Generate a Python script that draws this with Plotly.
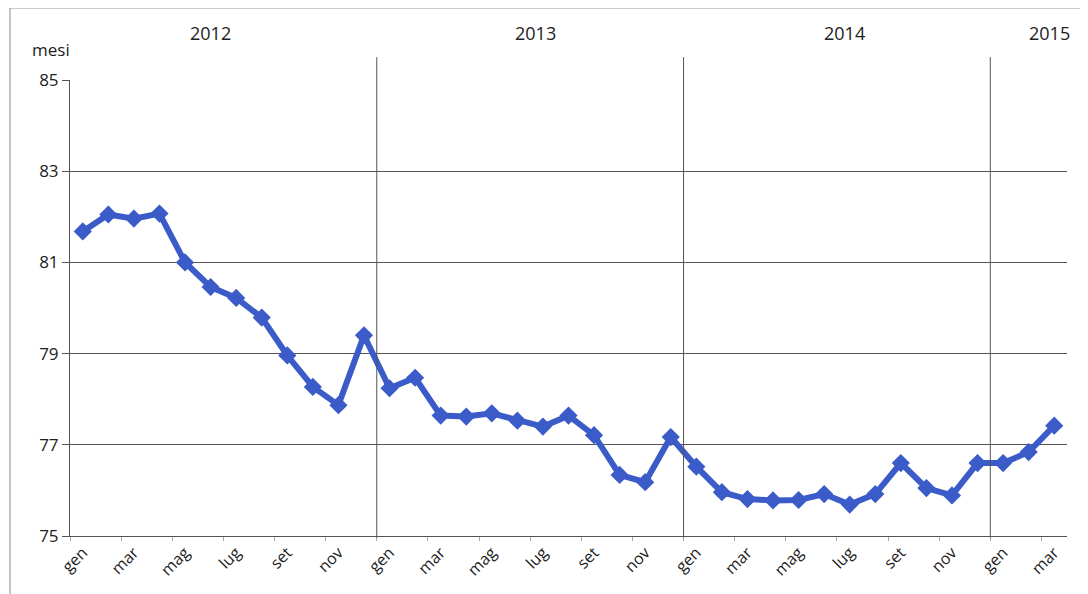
import plotly.graph_objects as go

years = ["2012", "2013", "2014", "2015"]
months = ["gen", "feb", "mar", "apr", "mag", "giu", "lug", "ago", "set", "ott", "nov", "dic"]
months_per_year = [12, 12, 12, 3]

values_2012 = [81.68, 82.05, 81.96, 82.07, 81.00, 80.46, 80.22, 79.79, 78.96, 78.27, 77.87, 79.40]
values_2013 = [78.24, 78.47, 77.64, 77.62, 77.69, 77.53, 77.40, 77.64, 77.21, 76.34, 76.18, 77.17]
values_2014 = [76.52, 75.96, 75.81, 75.78, 75.79, 75.92, 75.69, 75.92, 76.60, 76.05, 75.89, 76.60]
values_2015 = [76.60, 76.84, 77.42]

y_ticks = [75, 77, 79, 81, 83, 85]
y_label = "mesi"

values = values_2012 + values_2013 + values_2014 + values_2015
cat_labels = []
for n in months_per_year:
    cat_labels += months[:n]
x_idx = list(range(len(values)))

BLUE = "#3B5CC8"
GRID = "#555555"
TXT = "#222222"
FONT = "Open Sans"

fig = go.Figure()
fig.add_trace(go.Scatter(
    x=x_idx, y=values, mode="lines+markers",
    line=dict(color=BLUE, width=6),
    marker=dict(symbol="diamond", size=14, color=BLUE),
    showlegend=False, hoverinfo="skip",
))

n = len(values)
boundaries = [i - 0.5 for i in range(0, n + 1, 2)]

# page body has an 8px margin; size the figure so the plot area lands where the reference has it
fig.update_layout(
    width=1080, height=586,
    margin=dict(l=62, r=21, t=72, b=58),
    paper_bgcolor="white", plot_bgcolor="white",
    font=dict(family=FONT, color=TXT, size=16),
    xaxis=dict(
        range=[-0.5, n - 0.5],
        tickmode="array",
        tickvals=x_idx[::2],
        ticktext=cat_labels[::2],
        tickangle=-45,
        ticks="",
        showgrid=False, zeroline=False,
        showline=True, linecolor=GRID, linewidth=1,
        tickfont=dict(size=16, color=TXT),
        minor=dict(tickmode="array", tickvals=boundaries, ticks="outside",
                   ticklen=4, tickcolor="#aaaaaa", showgrid=False),
    ),
    yaxis=dict(
        range=[75, 85],
        tickmode="array", tickvals=y_ticks,
        ticks="outside", ticklen=7, tickcolor=GRID,
        showgrid=True, gridcolor=GRID, gridwidth=1,
        zeroline=False,
        showline=True, linecolor=GRID, linewidth=1,
        tickfont=dict(size=17, color=TXT),
    ),
)

shapes = []
annotations = []
start = 0
label_offsets = [5.0, 17.7, 29.8, 37.8]
for i, (yr, cnt) in enumerate(zip(years, months_per_year)):
    if start > 0:
        shapes.append(dict(type="line", xref="x", yref="paper",
                           x0=start - 0.5, x1=start - 0.5, y0=-0.004, y1=1.05,
                           line=dict(color=GRID, width=1)))
    annotations.append(dict(text=yr, xref="x", yref="paper",
                            x=label_offsets[i], y=1.103, showarrow=False,
                            xanchor="center", yanchor="middle",
                            font=dict(size=18, color=TXT)))
    start += cnt

# outer frame (top and left)
shapes.append(dict(type="line", xref="paper", yref="paper",
                   x0=-0.0602, x1=1.03, y0=1.158, y1=1.158,
                   line=dict(color="#8a8a8a", width=1)))
shapes.append(dict(type="line", xref="paper", yref="paper",
                   x0=-0.0602, x1=-0.0602, y0=1.158, y1=-0.14,
                   line=dict(color="#8a8a8a", width=1)))

annotations.append(dict(text=y_label, xref="paper", yref="paper",
                        x=-0.04, y=1.066, showarrow=False,
                        xanchor="left", yanchor="middle",
                        font=dict(size=17, color=TXT)))

fig.update_layout(shapes=shapes, annotations=annotations)
fig.write_html("out.html")
